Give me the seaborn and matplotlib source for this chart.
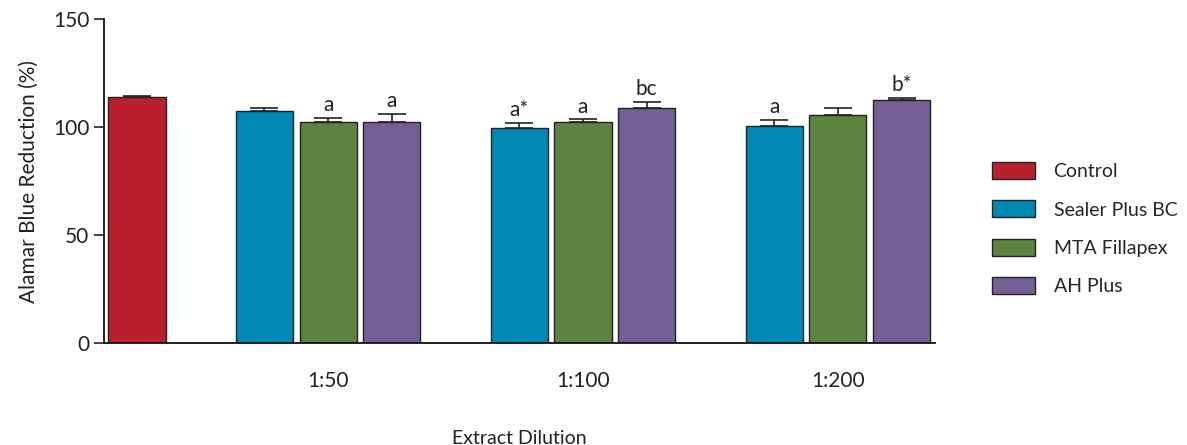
import matplotlib
matplotlib.use("Agg")
import matplotlib.pyplot as plt
import seaborn as sns
import pandas as pd
import numpy as np
from matplotlib.patches import Patch

# ---- data ----
materials = ["Control", "Sealer Plus BC", "MTA Fillapex", "AH Plus"]
dilutions = ["1:50", "1:100", "1:200"]
control_value = 113.9
control_err = 0.5
sealer_values = [107.4, 99.6, 100.5]
sealer_err = [1.5, 2.5, 2.7]
mta_values = [102.3, 102.2, 105.8]
mta_err = [2.0, 1.4, 3.0]
ah_values = [102.3, 108.8, 112.5]
ah_err = [3.9, 2.8, 1.0]
sealer_letters = ["", "a*", "a"]
mta_letters = ["a", "a", ""]
ah_letters = ["a", "bc", "b*"]

colors = ["#B8202E", "#0088B4", "#5E8240", "#745F96"]

# ---- build table ----
rows = [dict(slot="Control", material="Control", value=control_value, err=control_err, letter="")]
order = ["Control"]
for i, d in enumerate(dilutions):
    order.append(f"gap{i}")
    for m, vals, errs, lets in [("Sealer Plus BC", sealer_values, sealer_err, sealer_letters),
                                ("MTA Fillapex", mta_values, mta_err, mta_letters),
                                ("AH Plus", ah_values, ah_err, ah_letters)]:
        slot = f"{d} {m}"
        order.append(slot)
        rows.append(dict(slot=slot, material=m, value=vals[i], err=errs[i], letter=lets[i]))
df = pd.DataFrame(rows)

sns.set_theme(style="ticks")
plt.rcParams["font.family"] = ["Lato", "DejaVu Sans"]

fig = plt.figure(figsize=(11.87, 4.45), dpi=100)
ax = fig.add_axes([0.0875, 0.229, 0.7005, 0.728])

sns.barplot(data=df, x="slot", y="value", hue="material", order=order,
            hue_order=materials, palette=colors, saturation=1, dodge=False, width=0.895,
            edgecolor="#222222", linewidth=1.0, errorbar=None, legend=False, ax=ax)

pos = np.array([order.index(s) for s in df["slot"]])
ax.errorbar(pos, df["value"], yerr=[np.zeros(len(df)), df["err"]], fmt="none",
            ecolor="#222222", elinewidth=1.2, capsize=10, capthick=1.2, zorder=3)
for p, v, e, l in zip(pos, df["value"], df["err"], df["letter"]):
    if l:
        ax.annotate(l, (p, v + e), xytext=(0, 2), textcoords="offset points",
                    ha="center", va="bottom", fontsize=15, color="#222222")

ax.set_ylim(0, 150)
ax.set_yticks([0, 50, 100, 150])
ax.set_xlim(-0.52, 12.53)
ax.set_xticks([order.index(f"{d} MTA Fillapex") for d in dilutions])
ax.set_xticklabels(dilutions)
ax.tick_params(axis="x", length=0, pad=20, labelsize=15, colors="#222222")
ax.tick_params(axis="y", length=7, width=1.2, labelsize=15, colors="#222222")
for sp in ["top", "right"]:
    ax.spines[sp].set_visible(False)
for sp in ["left", "bottom"]:
    ax.spines[sp].set_color("#111111")
    ax.spines[sp].set_linewidth(1.3)
ax.set_xlabel("Extract Dilution", fontsize=14, labelpad=28, color="#222222")
ax.set_ylabel("Alamar Blue Reduction (%)", fontsize=15, labelpad=10, color="#222222")

handles = [Patch(facecolor=c, edgecolor="#222222", linewidth=1.0) for c in colors]
fig.legend(handles, materials, loc="center left", bbox_to_anchor=(0.836, 0.486),
           frameon=False, fontsize=14, handlelength=2.2, handleheight=0.95,
           labelspacing=1.05, handletextpad=0.95, borderpad=0, borderaxespad=0)

fig.savefig("out.png", dpi=100)
